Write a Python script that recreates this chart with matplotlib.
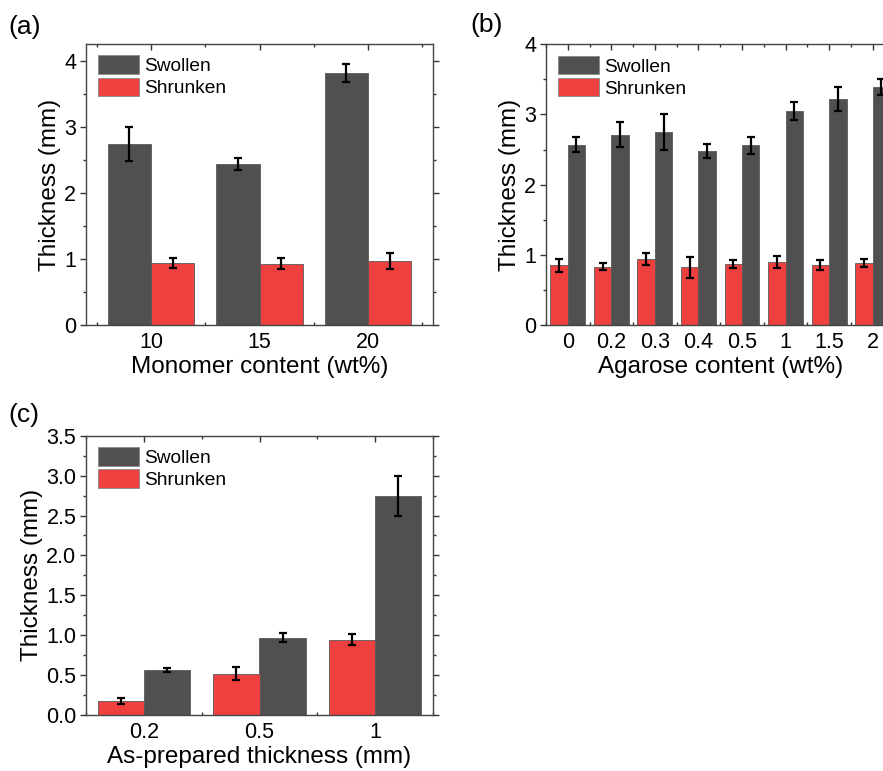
import matplotlib
matplotlib.use("Agg")
import matplotlib.pyplot as plt
import numpy as np
from matplotlib.ticker import MultipleLocator, FixedLocator

plt.rcParams['font.family'] = ['Liberation Sans', 'DejaVu Sans']

# ---- data ----
a_cats = ['10', '15', '20']
a_swollen = [2.74, 2.43, 3.81]
a_swollen_err = [0.26, 0.09, 0.14]
a_shrunken = [0.94, 0.93, 0.97]
a_shrunken_err = [0.08, 0.08, 0.12]

b_cats = ['0', '0.2', '0.3', '0.4', '0.5', '1', '1.5', '2']
b_swollen = [2.57, 2.71, 2.75, 2.48, 2.56, 3.05, 3.22, 3.39]
b_swollen_err = [0.11, 0.18, 0.25, 0.10, 0.12, 0.13, 0.17, 0.11]
b_shrunken = [0.85, 0.83, 0.94, 0.82, 0.87, 0.90, 0.86, 0.88]
b_shrunken_err = [0.09, 0.05, 0.08, 0.15, 0.06, 0.09, 0.07, 0.06]

c_cats = ['0.2', '0.5', '1']
c_shrunken = [0.175, 0.52, 0.945]
c_shrunken_err = [0.04, 0.08, 0.07]
c_swollen = [0.565, 0.97, 2.74]
c_swollen_err = [0.02, 0.06, 0.25]

GREY = '#505050'
RED = '#ef4040'
EDGE = '#5a5a5a'
W = 0.4

fig = plt.figure(figsize=(8.83, 7.71), dpi=100)
W_px, H_px = 883, 771

def ax_at(l, t, r, b):
    return fig.add_axes([l / W_px, 1 - b / H_px, (r - l) / W_px, (b - t) / H_px])

ax_a = ax_at(86, 44, 433, 325)
ax_b = ax_at(546, 44.3, 894.5, 325)
ax_c = ax_at(86, 435.7, 433, 715)

ekw = dict(ecolor='black', elinewidth=1.6, capsize=2.7, capthick=1.6)

def style(ax, ylim, major, minor, xlim, ncat, cats):
    ax.set_ylim(*ylim)
    ax.set_xlim(*xlim)
    ax.yaxis.set_major_locator(MultipleLocator(major))
    ax.yaxis.set_minor_locator(MultipleLocator(minor))
    ax.set_xticks(np.arange(ncat))
    ax.set_xticklabels(cats)
    ax.xaxis.set_minor_locator(FixedLocator(np.arange(ncat + 1) - 0.5))
    for s in ax.spines.values():
        s.set_color('#444444')
        s.set_linewidth(1.0)
    ax.tick_params(axis='both', which='both', labelsize=15.5, color='#333333')
    ax.tick_params(axis='y', which='major', direction='out', length=4, width=1, pad=3)
    ax.tick_params(axis='y', which='minor', direction='out', length=2.5, width=1)
    ax.tick_params(axis='x', which='major', direction='in', length=4, width=1, top=True, pad=5)
    ax.tick_params(axis='x', which='minor', direction='in', length=2.5, width=1, top=True)
    ax.tick_params(axis='y', which='both', right=True)
    ax.set_ylabel('Thickness (mm)', fontsize=17.5, labelpad=2)
    leg = ax.legend(loc='upper left', frameon=False, fontsize=13.8,
                    handlelength=2.15, handleheight=1.1, labelspacing=0.12,
                    handletextpad=0.3, borderaxespad=0.2)
    for p in leg.get_patches():
        p.set_edgecolor('#888888')

# (a) swollen left, shrunken right
x = np.arange(len(a_cats))
ax_a.bar(x - W / 2, a_swollen, W, yerr=a_swollen_err, color=GREY, edgecolor=EDGE,
         linewidth=0.6, label='Swollen', error_kw=ekw, zorder=2)
ax_a.bar(x + W / 2, a_shrunken, W, yerr=a_shrunken_err, color=RED, edgecolor=EDGE,
         linewidth=0.6, label='Shrunken', error_kw=ekw, zorder=2)
style(ax_a, (0, 4.25), 1, 0.5, (-0.6, 2.6), len(a_cats), a_cats)
ax_a.set_xlabel('Monomer content (wt%)', fontsize=17.5, labelpad=2)

# (b) shrunken left, swollen right
x = np.arange(len(b_cats))
ax_b.bar(x + W / 2, b_swollen, W, yerr=b_swollen_err, color=GREY, edgecolor=EDGE,
         linewidth=0.6, label='Swollen', error_kw=ekw, zorder=2)
ax_b.bar(x - W / 2, b_shrunken, W, yerr=b_shrunken_err, color=RED, edgecolor=EDGE,
         linewidth=0.6, label='Shrunken', error_kw=ekw, zorder=2)
style(ax_b, (0, 4), 1, 0.5, (-0.5, 7.5), len(b_cats), b_cats)
ax_b.set_xlabel('Agarose content (wt%)', fontsize=17.5, labelpad=2)

# (c) shrunken left, swollen right
x = np.arange(len(c_cats))
ax_c.bar(x + W / 2, c_swollen, W, yerr=c_swollen_err, color=GREY, edgecolor=EDGE,
         linewidth=0.6, label='Swollen', error_kw=ekw, zorder=2)
ax_c.bar(x - W / 2, c_shrunken, W, yerr=c_shrunken_err, color=RED, edgecolor=EDGE,
         linewidth=0.6, label='Shrunken', error_kw=ekw, zorder=2)
style(ax_c, (0, 3.5), 0.5, 0.25, (-0.5, 2.5), len(c_cats), c_cats)
ax_c.yaxis.set_major_formatter(matplotlib.ticker.FormatStrFormatter('%.1f'))
ax_c.set_xlabel('As-prepared thickness (mm)', fontsize=17.5, labelpad=2)

fig.text(8 / W_px, 1 - 27 / H_px, '(a)', fontsize=19, va='center', ha='left')
fig.text(470 / W_px, 1 - 25 / H_px, '(b)', fontsize=19, va='center', ha='left')
fig.text(8 / W_px, 1 - 415 / H_px, '(c)', fontsize=19, va='center', ha='left')

fig.savefig('out.png', dpi=100)
